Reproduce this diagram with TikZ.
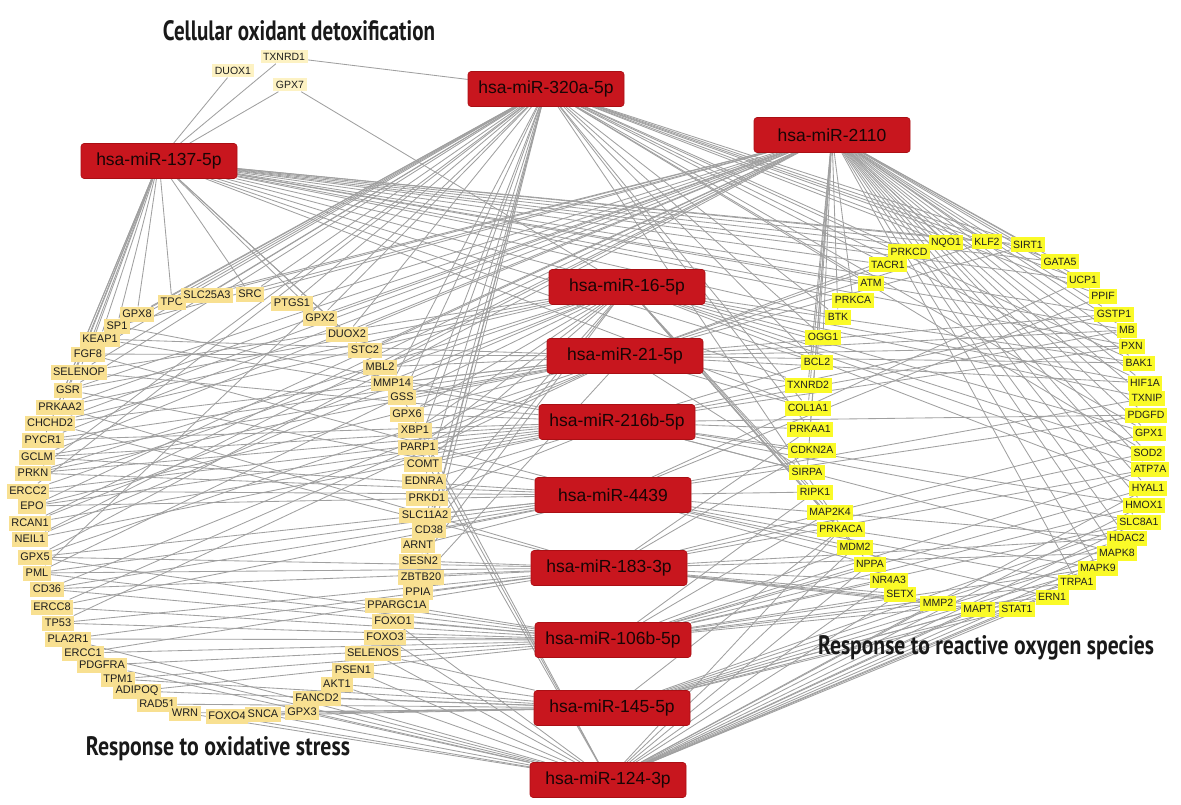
\documentclass[tikz,border=0pt]{standalone}
\usepackage{fontspec}
\usepackage{graphicx}
\setmainfont{Liberation Sans}
\newfontfamily\headfont{PT Sans}
\usetikzlibrary{backgrounds}

\definecolor{mirfill}{RGB}{200,22,30}
\definecolor{mirline}{RGB}{170,15,20}
\definecolor{mirtext}{RGB}{25,5,5}
\definecolor{stressfill}{RGB}{248,224,145}
\definecolor{rosfill}{RGB}{250,250,40}
\definecolor{detoxfill}{RGB}{253,242,195}
\definecolor{genetext}{RGB}{30,30,30}
\definecolor{edgegray}{RGB}{160,160,160}
\definecolor{headtext}{RGB}{25,25,25}

\tikzset{
  mirna/.style={rectangle, rounded corners=3pt, fill=mirfill, draw=mirline, line width=0.6pt,
    minimum width=156pt, minimum height=35pt, inner sep=0pt, text=mirtext,
    font=\fontsize{17.5}{20}\selectfont},
  gene/.style={rectangle, inner xsep=2.5pt, inner ysep=0pt, minimum height=15pt, text=genetext},
  stressgene/.style={gene, fill=stressfill, font=\fontsize{11}{12}\selectfont},
  rosgene/.style={gene, fill=rosfill, font=\fontsize{10.5}{12}\selectfont},
  detoxgene/.style={gene, fill=detoxfill, minimum height=13pt, font=\fontsize{10.5}{12}\selectfont},
  heading/.style={inner sep=0pt, text=headtext},
  edge/.style={draw=edgegray, line width=0.85pt}
}

\begin{document}
\begin{tikzpicture}[x=1pt, y=-1pt]
\useasboundingbox (0,0) rectangle (1181,805);

% group headings
\node[heading] (hdetox) at (299,31) {\resizebox{272pt}{20pt}{\headfont\bfseries Cellular oxidant detoxification}};
\node[heading] (hstress) at (218,749) {\resizebox{264pt}{19pt}{\headfont\bfseries Response to oxidative stress}};
\node[heading] (hros) at (986,648) {\resizebox{336pt}{19pt}{\headfont\bfseries Response to reactive oxygen species}};

% miRNA hubs
\node[mirna] (m137) at (159,161) {hsa-miR-137-5p};
\node[mirna] (m320) at (546,89) {hsa-miR-320a-5p};
\node[mirna] (m2110) at (832,135) {hsa-miR-2110};
\node[mirna] (m16) at (627,287) {hsa-miR-16-5p};
\node[mirna] (m21) at (625,356) {hsa-miR-21-5p};
\node[mirna] (m216b) at (617,422) {hsa-miR-216b-5p};
\node[mirna] (m4439) at (613,495) {hsa-miR-4439};
\node[mirna] (m183) at (609,568) {hsa-miR-183-3p};
\node[mirna] (m106b) at (613,640) {hsa-miR-106b-5p};
\node[mirna] (m145) at (612,708) {hsa-miR-145-5p};
\node[mirna] (m124) at (608,780) {hsa-miR-124-3p};

% cellular oxidant detoxification
\foreach \n/\x/\y in {TXNRD1/284/57, DUOX1/233/71, GPX7/290/85}
  \node[detoxgene] (\n) at (\x,\y) {\n};

% response to oxidative stress
\foreach \n/\x/\y in {
  GPX8/137/314, TPO/172/302, SRC/250/294, SLC25A3/207/295, PTGS1/292/303,
  SP1/117/326, KEAP1/100/339, FGF8/88/354, SELENOP/79/372, GSR/68/390,
  PRKAA2/60/407, CHCHD2/50/423, PYCR1/43/440, GCLM/37/457, PRKN/33/473,
  ERCC2/28/491, EPO/32/506, RCAN1/30/523, NEIL1/30/539, GPX5/35/557,
  PML/37/573, CD36/47/589, ERCC8/52/607, TP53/58/623, PLA2R1/68/639,
  ERCC1/83/653, PDGFRA/102/665, TPM1/118/679, ADIPOQ/137/691, RAD51/157/704,
  WRN/185/713, FOXO4/227/716, SNCA/263/714, GPX3/302/712, FANCD2/317/698,
  AKT1/337/684, PSEN1/353/670, SELENOS/373/653, FOXO3/385/637, FOXO1/393/621,
  PPARGC1A/397/605, PPIA/418/592, ZBTB20/421/577, SESN2/420/561, ARNT/418/545,
  CD38/429/530, SLC11A2/425/515, PRKD1/427/498, EDNRA/424/481, COMT/423/464,
  PARP1/418/447, XBP1/415/430, GPX6/407/414, GSS/402/397, MMP14/392/383,
  MBL2/380/367, STC2/365/350, DUOX2/347/334, GPX2/320/318}
  \node[stressgene] (\n) at (\x,\y) {\n};

% response to reactive oxygen species
\foreach \n/\x/\y in {
  PRKCD/909/252, NQO1/946/243, KLF2/987/242, SIRT1/1028/245, GATA5/1060/262,
  UCP1/1083/280, PPIF/1103/296, GSTP1/1114/314, MB/1127/330, PXN/1132/346,
  BAK1/1139/363, HIF1A/1145/383, TXNIP/1147/398, PDGFD/1146/415, GPX1/1149/433,
  SOD2/1148/453, ATP7A/1150/469, HYAL1/1148/488, HMOX1/1144/505, SLC8A1/1139/522,
  HDAC2/1127/538, MAPK8/1117/553, MAPK9/1098/568, TRPA1/1077/582, ERN1/1052/597,
  STAT1/1017/609, MAPT/978/609, MMP2/938/603, SETX/900/594, NR4A3/889/580,
  NPPA/870/564, MDM2/855/547, PRKACA/841/529, MAP2K4/830/512, RIPK1/815/492,
  SIRPA/807/472, CDKN2A/812/450, PRKAA1/810/429, COL1A1/808/408, TXNRD2/808/385,
  BCL2/817/362, OGG1/823/337, BTK/838/317, PRKCA/853/300, ATM/871/283, TACR1/888/265}
  \node[rosgene] (\n) at (\x,\y) {\n};

% miRNA--target interactions
\begin{pgfonlayer}{background}
\foreach \g in {DUOX1, TXNRD1, GPX7, GPX8, SP1, KEAP1, FGF8, SELENOP, GSR, PRKAA2,
  CHCHD2, PYCR1, TPO, SRC, DUOX2, STC2, GPX2, PRKCD, TACR1, ATM, NQO1, KLF2, PRKCA,
  BTK, OGG1, BCL2, SIRT1, GATA5, TXNRD2, COL1A1, UCP1, GSTP1, MB, PXN}
  \draw[edge] (m137) -- (\g);
\foreach \g in {TXNRD1, TPO, SLC25A3, SRC, PTGS1, GPX8, SP1, KEAP1, FGF8, SELENOP,
  GSR, GPX2, DUOX2, MMP14, GSS, XBP1, PARP1, EDNRA, CD38, SESN2, PRKCD, NQO1, KLF2,
  SIRT1, GATA5, UCP1, TACR1, ATM, BTK, OGG1, BCL2, COL1A1, PRKAA1, MDM2, PPIF,
  PRKN, ERCC2, PML, ARNT, PPIA, BAK1, HIF1A, GPX1, SOD2}
  \draw[edge] (m320) -- (\g);
\foreach \g in {TPO, SLC25A3, SRC, PTGS1, GPX2, DUOX2, STC2, MBL2, GSR, PRKAA2,
  CHCHD2, PYCR1, GCLM, SP1, BTK, OGG1, PRKCA, BCL2, TXNRD2, COL1A1, PRKAA1, SIRPA,
  GATA5, UCP1, PPIF, GSTP1, MB, PXN, BAK1, HIF1A, TXNIP, PDGFD, GPX1, SIRT1, KLF2, NQO1,
  NEIL1, RCAN1, EPO, GPX5, SOD2, ATP7A, HYAL1, HMOX1, SLC8A1, HDAC2, MAPK8, MAPK9, TRPA1}
  \draw[edge] (m2110) -- (\g);
\foreach \g in {GPX7, GPX6, XBP1, PARP1, COMT, SLC11A2, ARNT, SESN2, PRKN, ERCC2,
  RIPK1, MAP2K4, PRKACA, MDM2, NPPA, SOD2, ATP7A, HYAL1, GPX1, TXNIP, BAK1, HIF1A,
  GSR, PRKAA2, SELENOP, RCAN1, NEIL1, PML, CHCHD2}
  \draw[edge] (m16) -- (\g);
\foreach \g in {CHCHD2, PYCR1, GCLM, PRKN, MBL2, MMP14, GSS, PPARGC1A, KEAP1, FGF8,
  PRKCD, NQO1, KLF2, SIRT1, GSTP1, HIF1A, BAK1, TXNRD2, COL1A1, MB, PXN, SIRPA,
  EPO, GPX5, CD36, TP53, ERCC8}
  \draw[edge] (m21) -- (\g);
\foreach \g in {ERCC2, EPO, RCAN1, NEIL1, COMT, EDNRA, PRKD1, GPX6, SELENOP, CDKN2A,
  SIRPA, PRKAA1, HMOX1, SLC8A1, MAPK8, PXN, MB, PDGFD, GSTP1, BCL2,
  PYCR1, GCLM, PRKN, KEAP1, SP1}
  \draw[edge] (m216b) -- (\g);
\foreach \g in {GPX5, PML, CD36, ERCC8, SLC11A2, CD38, ARNT, EPO, MAPK9, TRPA1, ERN1,
  HDAC2, MDM2, NPPA, UCP1, PPIF, TXNIP, PDGFD, RIPK1, PRKN, GCLM, ERCC2, FGF8, GSR}
  \draw[edge] (m4439) -- (\g);
\foreach \g in {TP53, PLA2R1, ERCC1, ZBTB20, PPIA, SESN2, CD36, PML, STAT1, MAPT, MMP2,
  SETX, NR4A3, MAPK8, HDAC2, GPX1, SOD2, ATP7A, PRKAA1, CDKN2A, PRKAA2, CHCHD2, GPX5}
  \draw[edge] (m183) -- (\g);
\foreach \g in {PDGFRA, TPM1, ADIPOQ, FOXO1, FOXO3, PPARGC1A, ERCC1, PLA2R1, TP53, GPX5,
  SETX, MMP2, NR4A3, ATP7A, HYAL1, HMOX1, SLC8A1, MAPK9, TRPA1, ERN1, RIPK1, MAP2K4,
  NPPA, MDM2, ERCC8, CD36, PML}
  \draw[edge] (m106b) -- (\g);
\foreach \g in {RAD51, WRN, FOXO4, SNCA, GPX3, FANCD2, AKT1, PSEN1, SELENOS, ADIPOQ,
  TPM1, MAPT, STAT1, ERN1, TRPA1, MAPK9, MAPK8, PRKACA, HDAC2, SLC8A1}
  \draw[edge] (m145) -- (\g);
\foreach \g in {GPX3, SNCA, FOXO4, WRN, FANCD2, AKT1, PSEN1, SELENOS, FOXO3, FOXO1,
  PDGFRA, ERCC1, PLA2R1, PARP1, XBP1, GSS, MMP2, MAPT, STAT1, ERN1, TRPA1, MAPK9, MAPK8,
  HDAC2, SLC8A1, HMOX1, HYAL1, NR4A3, SETX, NPPA, MDM2, PRKACA}
  \draw[edge] (m124) -- (\g);
\end{pgfonlayer}
\end{tikzpicture}
\end{document}
